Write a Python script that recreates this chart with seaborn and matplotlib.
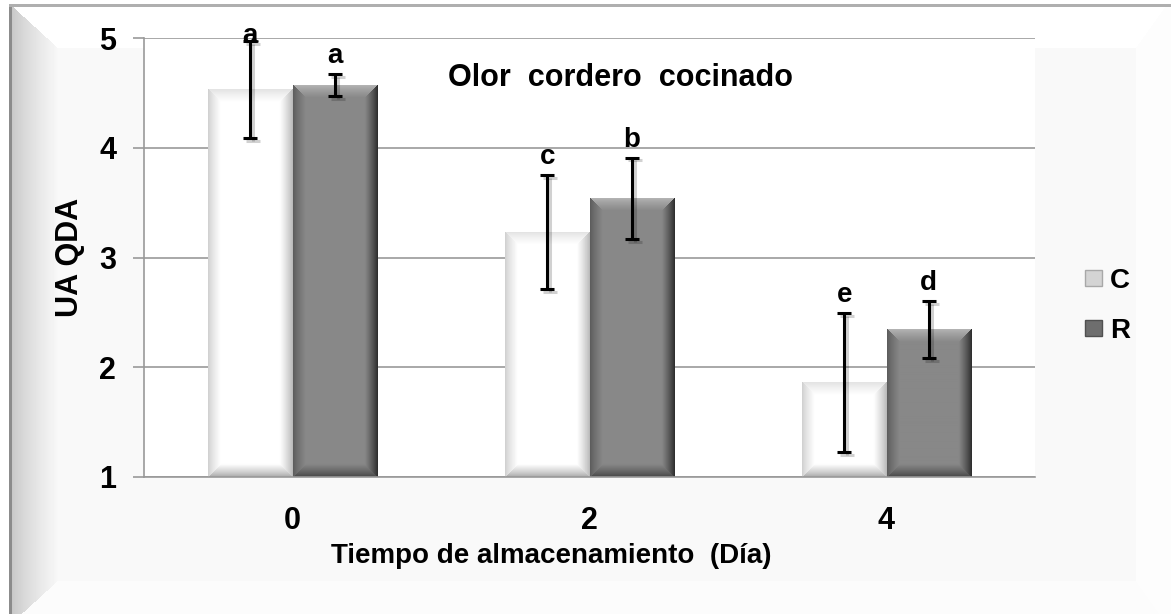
import numpy as np
import pandas as pd
import matplotlib
matplotlib.use("Agg")
import matplotlib.pyplot as plt
import matplotlib.patheffects as pe
from matplotlib.patches import Patch
import seaborn as sns

# Datos (UA QDA, olor cordero cocinado)
dias = ["0", "2", "4"]
tratamientos = ["C", "R"]
media_C = [4.53, 3.23, 1.86]
media_R = [4.57, 3.54, 2.34]
error_C = [0.44, 0.52, 0.63]
error_R = [0.10, 0.37, 0.26]
letras_C = ["a", "c", "e"]
letras_R = ["a", "b", "d"]

df = pd.DataFrame({
    "dia": dias * 2,
    "tratamiento": ["C"] * len(dias) + ["R"] * len(dias),
    "valor": media_C + media_R,
})

sns.set_theme(style="white")
plt.rcParams["font.family"] = ["Liberation Sans", "DejaVu Sans"]
plt.rcParams["font.weight"] = "bold"
plt.rcParams["axes.labelweight"] = "bold"
plt.rcParams["text.color"] = "black"
plt.rcParams["axes.labelcolor"] = "black"

W, H = 1171, 614
fig = plt.figure(figsize=(W / 100, H / 100), dpi=100)
fig.patch.set_facecolor("white")

# ---------------------------------------------------------------
# Fondo con marco biselado (estilo Excel)
# ---------------------------------------------------------------
yy, xx = np.mgrid[0:H, 0:W].astype(float)
dl = (xx - 12) / 46
dt = (yy - 6) / 42
dr = (1165 - xx) / 30
db = (622 - yy) / 42
dist = np.stack([dl, dt, dr, db])
borde = dist.argmin(axis=0)
dmin = dist.min(axis=0)

fondo = np.full((H, W), 249.0)
en_bisel = dmin < 1
izq = en_bisel & (borde == 0)
fondo[izq] = 200 + 48 * np.clip(dl[izq], 0, 1) ** 0.8
fondo[en_bisel & (borde == 1)] = 255
fondo[en_bisel & (borde == 2)] = 253
fondo[en_bisel & (borde == 3)] = 252
fondo[(xx >= 9) & (xx < 12) & (yy >= 4)] = 140
fondo[(yy >= 4) & (yy < 7) & (xx >= 9)] = 175
fondo[(xx < 9) | (yy < 4)] = 255

bg = fig.add_axes([0, 0, 1, 1], zorder=-10)
bg.imshow(fondo, cmap="gray", vmin=0, vmax=255, aspect="auto", interpolation="bilinear")
bg.axis("off")

# ---------------------------------------------------------------
# Gráfico de barras
# ---------------------------------------------------------------
ax = fig.add_axes([144 / W, 1 - 477 / H, 891 / W, 439 / H])
ax.set_facecolor("white")

sns.barplot(data=df, x="dia", y="valor", hue="tratamiento", order=dias,
            hue_order=tratamientos, palette={"C": "#ffffff", "R": "#888888"},
            width=0.57, gap=0, errorbar=None, linewidth=0, legend=False,
            ax=ax, zorder=2)

ax.set_xlim(-0.5, 2.5)
ax.set_ylim(1, 5)


def bisel(ancho, alto, base, bordes, b=13):
    y, x = np.mgrid[0:alto, 0:ancho] + 0.5
    d = np.stack([x, ancho - x, y, alto - y])  # izq, der, arriba, abajo
    k = d.argmin(axis=0)
    t = np.clip(d.min(axis=0) / b, 0, 1) ** 0.8
    e = np.asarray(bordes, dtype=float)[k]
    return e + (base - e) * t


estilos = {
    0: (255, [205, 180, 225, 165]),
    1: (136, [90, 40, 182, 68]),
}

for i, cont in enumerate(ax.containers):
    base, bordes = estilos[i]
    for p in cont:
        x0, x1 = p.get_x(), p.get_x() + p.get_width()
        y0, y1 = max(p.get_y(), 1), p.get_y() + p.get_height()
        (px0, py0), (px1, py1) = ax.transData.transform([[x0, y0], [x1, y1]])
        w, h = max(int(round(px1 - px0)), 2), max(int(round(py1 - py0)), 2)
        ax.imshow(bisel(w, h, base, bordes), extent=(x0, x1, y0, y1),
                  cmap="gray", vmin=0, vmax=255, aspect="auto",
                  interpolation="bilinear", zorder=2.1)

sombra = [pe.SimpleLineShadow(offset=(2, -2), shadow_color="black", alpha=0.18),
          pe.Normal()]

for cont, medias, errores, letras in zip(ax.containers, [media_C, media_R],
                                         [error_C, error_R], [letras_C, letras_R]):
    xs = [p.get_x() + p.get_width() / 2 for p in cont]
    eb = ax.errorbar(xs, medias, yerr=errores, fmt="none", ecolor="black",
                     elinewidth=2.2, capsize=5, capthick=2.2, zorder=4)
    for art in list(eb.lines[1]) + list(eb.lines[2]):
        art.set_path_effects(sombra)
    for x, m, e, l in zip(xs, medias, errores, letras):
        ax.text(x, min(m + e + 0.1, 4.955), l, ha="center", va="baseline",
                fontsize=20, fontweight="bold", zorder=5)

ax.set_xlim(-0.5, 2.5)
ax.set_ylim(1, 5)
ax.set_yticks([1, 2, 3, 4, 5])
ax.set_axisbelow(True)
ax.yaxis.grid(True, color="#999999", lw=1.2)
ax.xaxis.grid(False)
for s in ["top", "right"]:
    ax.spines[s].set_visible(False)
for s in ["left", "bottom"]:
    ax.spines[s].set_color("#999999")
    ax.spines[s].set_linewidth(1.2)

ax.tick_params(axis="y", left=True, direction="out", length=8, width=1.2,
               color="#999999", pad=12, labelsize=22, labelcolor="black")
ax.tick_params(axis="x", bottom=False, length=0, pad=21, labelsize=22,
               labelcolor="black")

ax.set_xlabel("Tiempo de almacenamiento  (Día)", fontsize=20, fontweight="bold",
              va="center")
ax.xaxis.set_label_coords(0.457, (477 - 556) / 439)
ax.set_ylabel("UA QDA", fontsize=22, fontweight="bold", va="center")
ax.yaxis.set_label_coords((70 - 144) / 891, 0.5)

ax.text(0.535, 0.909, "Olor  cordero  cocinado", transform=ax.transAxes,
        ha="center", va="center", fontsize=22, fontweight="bold")

handles = [Patch(facecolor="#d4d4d4", edgecolor="#a8a8a8", label="C"),
           Patch(facecolor="#6e6e6e", edgecolor="#505050", label="R")]
fig.legend(handles=handles, loc="upper left", bbox_to_anchor=(1085 / W, 1 - 268 / H),
           frameon=False, fontsize=20, handlelength=0.6, handleheight=0.5,
           handletextpad=0.3, labelspacing=0.85, borderpad=0, borderaxespad=0)

fig.savefig("out.png", dpi=100)
